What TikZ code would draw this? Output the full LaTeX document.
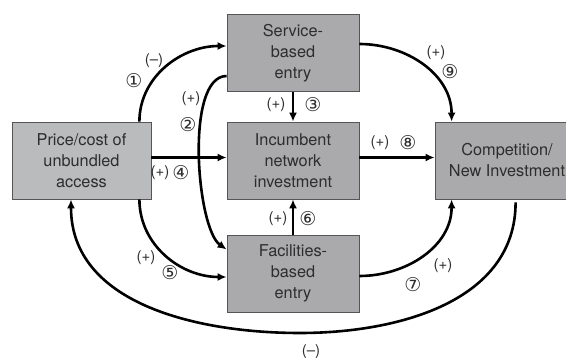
\documentclass[tikz,border=0pt]{standalone}
\usepackage{fontspec}
\setmainfont{TeX Gyre Heros}
\newfontfamily\circfont{DejaVu Sans}
\usetikzlibrary{arrows.meta,calc}
\definecolor{boxgray}{RGB}{170,170,172}
\definecolor{pricegray}{RGB}{186,187,189}
\definecolor{edgegray}{RGB}{85,85,87}
\definecolor{txtgray}{RGB}{45,45,45}

\begin{document}
\begin{tikzpicture}[x=1pt, y=-1pt,
    every node/.style={text=txtgray},
    boxnode/.style={draw=edgegray, line width=0.8pt, fill=boxgray, align=center,
      minimum width=132pt, minimum height=77pt, inner sep=2pt,
      font=\fontsize{16.3}{21}\selectfont},
    lbl/.style={font=\fontsize{15}{17}\selectfont, inner sep=0pt},
    num/.style={font=\circfont\fontsize{19}{20}\selectfont, inner sep=0pt},
    link/.style={line width=2.6pt, -{Latex[length=9pt,width=8pt]}}]
  \useasboundingbox (0,0) rectangle (566,358);

  % boxes
  \node[boxnode, fill=pricegray, minimum width=139pt] (price) at (81.5,160.5) {Price/cost of\\unbundled\\access};
  \node[boxnode] (service) at (293,53) {Service-\\based\\entry};
  \node[boxnode] (incumbent) at (293,160.5) {Incumbent\\network\\investment};
  \node[boxnode] (facilities) at (293,273.5) {Facilities-\\based\\entry};
  \node[boxnode, minimum width=144pt] (competition) at (507,160.5) {Competition/\\New Investment};

  % links
  \draw[link] ([xshift=-12pt]price.north east) to[out=90,in=180] ([yshift=7pt]service.west);
  \draw[link] ([yshift=-23pt]service.west) .. controls +(-42,0) and +(-30,-21) .. ([yshift=24pt]facilities.west);
  \draw[link] (service.south) -- (incumbent.north);
  \draw[link] ([yshift=3pt]price.east) -- ([yshift=3pt]incumbent.west);
  \draw[link] ([xshift=-12pt]price.south east) to[out=-90,in=180] ([yshift=-3.5pt]facilities.west);
  \draw[link] (facilities.north) -- (incumbent.south);
  \draw[link] ([yshift=-2.5pt]facilities.east) to[out=0,in=-90] ([xshift=17pt]competition.south west);
  \draw[link] ([yshift=3pt]incumbent.east) -- ([yshift=3pt]competition.west);
  \draw[link] ([yshift=9pt]service.east) to[out=0,in=90] ([xshift=17pt]competition.north west);
  \coordinate (fbot) at (300,333);
  \draw[link] ([xshift=81pt,yshift=-3pt]competition.south west) to[out=-90,in=0] (fbot)
    to[out=180,in=-90] ([xshift=-10.5pt]price.south);

  % labels
  \node[lbl] (s1) at (154,61) {(–)};
  \node[num] (n1) at (134,81) {①};
  \node[lbl] (s2) at (191,99) {(+)};
  \node[num] (n2) at (188,125) {②};
  \node[lbl] (s3) at (276,105) {(+)};
  \node[num] (n3) at (313,105) {③};
  \node[lbl] (s4) at (160,173) {(+)};
  \node[num] (n4) at (181,173) {④};
  \node[lbl] (s5) at (146,258) {(+)};
  \node[num] (n5) at (170,273) {⑤};
  \node[lbl] (s6) at (278,219) {(+)};
  \node[num] (n6) at (308,219) {⑥};
  \node[lbl] (s7) at (443,266) {(+)};
  \node[num] (n7) at (413,285) {⑦};
  \node[lbl] (s8) at (380,143) {(+)};
  \node[num] (n8) at (408,143) {⑧};
  \node[lbl] (s9) at (436,53) {(+)};
  \node[num] (n9) at (450,72) {⑨};
  \node[lbl] (sfb) at (311,352) {(–)};
\end{tikzpicture}
\end{document}
